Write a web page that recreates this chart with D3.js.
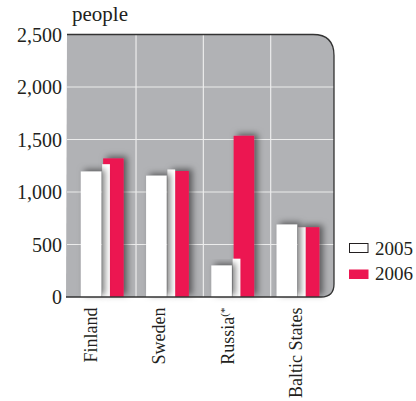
<!DOCTYPE html>
<html>
<head>
<meta charset="utf-8">
<script src="https://cdn.jsdelivr.net/npm/d3@7"></script>
<style>
  body { margin: 0; background: #fff; }
  text { font-family: "Liberation Serif", "DejaVu Serif", serif; fill: #231f20; }
</style>
</head>
<body>
<svg id="chart" width="416" height="401"></svg>
<script>
// data
const categories = ['Finland', 'Sweden', 'Russia', 'Baltic States'];
const values2005 = [1195, 1155, 300, 690];
const stripValues = [1265, 1215, 365, 665];   // narrow white strip drawn in front of the red bar
const values2006 = [1320, 1200, 1535, 665];
const yTicks = [0, 500, 1000, 1500, 2000, 2500];
const legendLabels = ['2005', '2006'];

const svg = d3.select('#chart');

const plotLeft = 67, plotRight = 334, plotTop = 34.5, plotBottom = 297;
const red = '#ec1651';
const plotGray = '#b1b2b5';

let y = d3.scaleLinear().domain([0, 2500]).range([plotBottom, plotTop]);
let xBars = d3.scaleBand().domain(categories).range([69.5, 330.5]);
let xLabels = d3.scaleBand().domain(categories).range([56, 329]);
let xGrid = d3.scaleLinear().domain([0, 4]).range([68.7, 338]);

// shadow filter
let defs = svg.append('defs');
let f = defs.append('filter').attr('id', 'shadow')
    .attr('x', '-50%').attr('y', '-20%').attr('width', '200%').attr('height', '140%');
f.append('feDropShadow')
    .attr('dx', 3.5).attr('dy', -2)
    .attr('stdDeviation', 3)
    .attr('flood-color', '#000')
    .attr('flood-opacity', 0.5);

//plot background with rounded right corners
let r1 = 21, r2 = 13;
let outline = `M${plotLeft},${plotTop} H${plotRight - r1} Q${plotRight},${plotTop} ${plotRight},${plotTop + r1} V${plotBottom - r2} Q${plotRight},${plotBottom} ${plotRight - r2},${plotBottom} H${plotLeft - 1}`;
svg.append('path')
    .attr('d', outline + ' Z')
    .attr('fill', plotGray);

//grid
svg.append('g').selectAll('line')
    .data(yTicks.filter(d => d > 0 && d < 2500))
    .enter()
    .append('line')
    .attr('x1', plotLeft).attr('x2', plotRight)
    .attr('y1', d => y(d)).attr('y2', d => y(d))
    .attr('stroke', '#ececec').attr('stroke-width', 1.2);

svg.append('g').selectAll('line')
    .data([1, 2, 3])
    .enter()
    .append('line')
    .attr('x1', d => xGrid(d)).attr('x2', d => xGrid(d))
    .attr('y1', plotTop).attr('y2', plotBottom)
    .attr('stroke', '#ececec').attr('stroke-width', 1.2);

//bars
let barW = 20.5;
let groups = svg.append('g').selectAll('g')
    .data(categories)
    .enter()
    .append('g');

groups.append('rect')
    .attr('x', (d) => xBars(d) + xBars.bandwidth() / 2 + 1)
    .attr('y', (d, i) => y(values2006[i]))
    .attr('width', barW)
    .attr('height', (d, i) => plotBottom - y(values2006[i]))
    .attr('fill', red)
    .attr('filter', 'url(#shadow)');

groups.append('rect')
    .attr('x', (d) => xBars(d) + xBars.bandwidth() / 2)
    .attr('y', (d, i) => y(stripValues[i]))
    .attr('width', 7.8)
    .attr('height', (d, i) => plotBottom - y(stripValues[i]))
    .attr('fill', '#fff');

groups.append('rect')
    .attr('x', (d) => xBars(d) + xBars.bandwidth() / 2 - barW - 0.8)
    .attr('y', (d, i) => y(values2005[i]))
    .attr('width', barW)
    .attr('height', (d, i) => plotBottom - y(values2005[i]))
    .attr('fill', '#fff')
    .attr('filter', 'url(#shadow)');

//border: top, right, bottom
svg.append('path')
    .attr('d', outline)
    .attr('fill', 'none')
    .attr('stroke', '#333')
    .attr('stroke-width', 1.3);

//y axis
let yAxis = svg.append('g')
    .attr('transform', 'translate(' + plotLeft + ',0)')
    .call(d3.axisLeft(y).tickValues(yTicks).tickFormat(d3.format(',')).tickSize(0).tickPadding(5));
yAxis.select('.domain').remove();
yAxis.selectAll('text')
    .style('font-family', '"Liberation Serif", serif')
    .style('font-size', '20px')
    .attr('fill', '#231f20')
    .attr('dy', '0.34em');

svg.append('text')
    .attr('x', 72).attr('y', 21)
    .style('font-size', '21px')
    .text('people');

//category labels
let labels = svg.append('g').selectAll('text')
    .data(categories)
    .enter()
    .append('text')
    .attr('transform', d => 'translate(' + (xLabels(d) + xLabels.bandwidth() / 2 + 7) + ',307.5) rotate(-90)')
    .attr('text-anchor', 'end')
    .style('font-size', '18px')
    .text(d => d);

labels.filter(d => d == 'Russia')
    .append('tspan')
    .attr('baseline-shift', 'super')
    .style('font-size', '11px')
    .text('(*');

//legend
let legend = svg.append('g');
legend.append('rect')
    .attr('x', 349.5).attr('y', 243.5)
    .attr('width', 18.5).attr('height', 9)
    .attr('fill', '#fff').attr('stroke', '#231f20').attr('stroke-width', 1);
legend.append('rect')
    .attr('x', 349).attr('y', 269.5)
    .attr('width', 19.5).attr('height', 9.5)
    .attr('fill', red);
legend.selectAll('.legend_text')
    .data(legendLabels)
    .enter()
    .append('text')
    .attr('class', 'legend_text')
    .attr('x', 375)
    .attr('y', (d, i) => 255 + i * 24.5)
    .style('font-size', '19px')
    .text(d => d);
</script>
</body>
</html>
